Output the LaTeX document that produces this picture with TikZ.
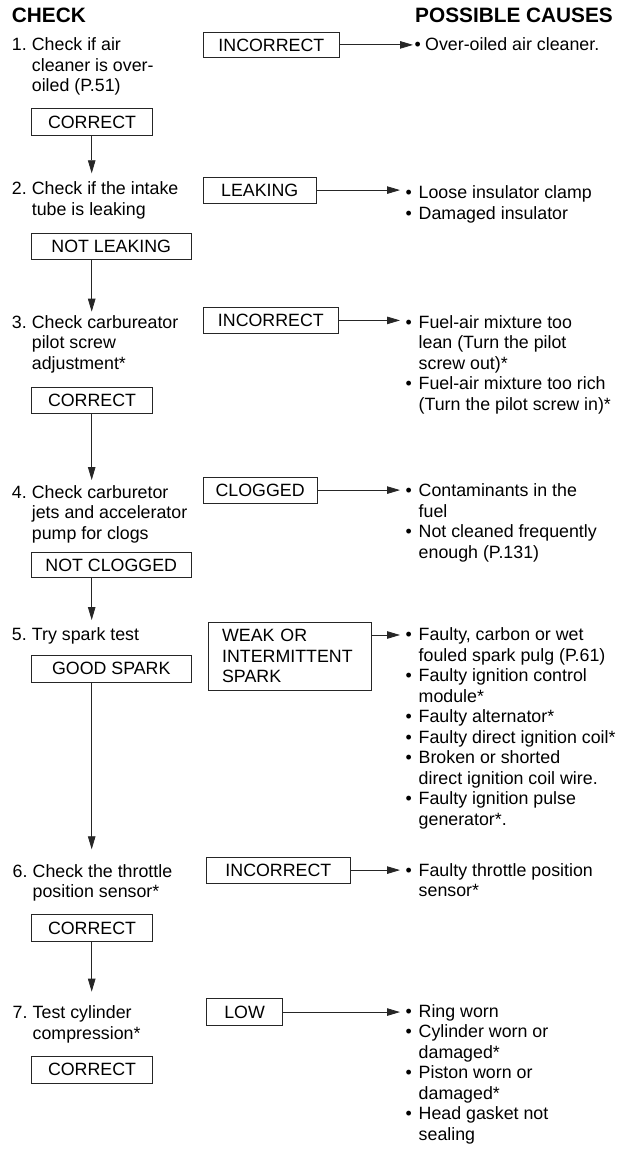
\documentclass[tikz,border=0pt]{standalone}
\usepackage{fontspec}
\setmainfont{Liberation Sans}
\usetikzlibrary{arrows.meta}
\newcommand{\bul}{\makebox[13.1pt][l]{•}}
\newcommand{\num}[1]{\makebox[20pt][l]{#1}}
\tikzset{
  every node/.style={font=\fontsize{17.8}{20.5}\selectfont, inner sep=0pt},
  txt/.style={anchor=base west, inner sep=0pt},
  hdr/.style={anchor=base west, inner sep=0pt, font=\fontsize{20.8}{24}\selectfont\bfseries},
  box/.style={draw=black!85, line width=0.8pt, anchor=north west, minimum height=26.5pt, inner sep=0pt},
  arr/.style={draw=black!85, line width=0.8pt, -{Triangle[length=13pt,width=7.5pt]}},
}
\begin{document}
\begin{tikzpicture}[x=1pt,y=-1pt]
\useasboundingbox (0,0) rectangle (616,1150);

% headers
\node[hdr] (hcheck) at (11.7,23) {CHECK};
\node[hdr] (hcause) at (415,23) {POSSIBLE CAUSES};

% step texts
\node[txt] (s1) at (11.7,50.7) {\begin{tabular}[t]{@{}l@{}l@{}}\num{1.}&Check if air\\&cleaner is over-\\&oiled (P.51)\end{tabular}};
\node[txt] (s2) at (11.7,195) {\begin{tabular}[t]{@{}l@{}l@{}}\num{2.}&Check if the intake\\&tube is leaking\end{tabular}};
\node[txt] (s3) at (11.7,328) {\begin{tabular}[t]{@{}l@{}l@{}}\num{3.}&Check carbureator\\&pilot screw\\&adjustment*\end{tabular}};
\node[txt] (s4) at (11.7,498.3) {\begin{tabular}[t]{@{}l@{}l@{}}\num{4.}&Check carburetor\\&jets and accelerator\\&pump for clogs\end{tabular}};
\node[txt] (s5) at (11.7,640) {\begin{tabular}[t]{@{}l@{}l@{}}\num{5.}&Try spark test\end{tabular}};
\node[txt] (s6) at (12.5,877) {\begin{tabular}[t]{@{}l@{}l@{}}\num{6.}&Check the throttle\\&position sensor*\end{tabular}};
\node[txt] (s7) at (12.5,1018.5) {\begin{tabular}[t]{@{}l@{}l@{}}\num{7.}&Test cylinder\\&compression*\end{tabular}};

% left result boxes
\node[box, minimum width=121.3pt, minimum height=26.7pt] (c1) at (31,108.3) {CORRECT};
\node[box, minimum width=159.7pt, minimum height=26.6pt] (c2) at (31,232.7) {NOT LEAKING};
\node[box, minimum width=121.3pt, minimum height=26pt] (c3) at (31,387.3) {CORRECT};
\node[box, minimum width=159.7pt, minimum height=25.6pt] (c4) at (31,551.7) {NOT CLOGGED};
\node[box, minimum width=159.7pt, minimum height=26.7pt] (c5) at (31,655) {GOOD SPARK};
\node[box, minimum width=121.3pt, minimum height=26.7pt] (c6) at (31,914.3) {CORRECT};
\node[box, minimum width=121.3pt, minimum height=26.7pt] (c7) at (31,1056) {CORRECT};

% right result boxes
\node[box, minimum width=136.6pt, minimum height=25.6pt] (b1) at (202.7,31.7) {INCORRECT};
\node[box, minimum width=113.3pt, minimum height=26pt] (b2) at (202.7,176.7) {LEAKING};
\node[box, minimum width=135.6pt, minimum height=26.6pt] (b3) at (202.7,306.7) {INCORRECT};
\node[box, minimum width=114pt, minimum height=26pt] (b4) at (202.7,476.7) {CLOGGED};
\node[box, text width=135.9pt, align=left, inner xsep=13.4pt, minimum height=68.3pt] (b5) at (208.3,621.7) {WEAK OR\\INTERMITTENT\\SPARK};
\node[box, minimum width=144pt, minimum height=26pt] (b6) at (206,856.7) {INCORRECT};
\node[box, minimum width=76.3pt, minimum height=26.7pt] (b7) at (206,998.3) {LOW};

% causes
\node[txt] (k1) at (414.5,50.5) {\begin{tabular}[t]{@{}l@{}l@{}}\makebox[10.5pt][l]{•}&Over-oiled air cleaner.\end{tabular}};
\node[txt] (k2) at (405.4,199) {\begin{tabular}[t]{@{}l@{}l@{}}\bul&Loose insulator clamp\\\bul&Damaged insulator\end{tabular}};
\node[txt] (k3) at (405.4,328.3) {\begin{tabular}[t]{@{}l@{}l@{}}\bul&Fuel-air mixture too\\&lean (Turn the pilot\\&screw out)*\\\bul&Fuel-air mixture too rich\\&(Turn the pilot screw in)*\end{tabular}};
\node[txt] (k4) at (405.4,496.7) {\begin{tabular}[t]{@{}l@{}l@{}}\bul&Contaminants in the\\&fuel\\\bul&Not cleaned frequently\\&enough (P.131)\end{tabular}};
\node[txt] (k5) at (405.4,640.7) {\begin{tabular}[t]{@{}l@{}l@{}}\bul&Faulty, carbon or wet\\&fouled spark pulg (P.61)\\\bul&Faulty ignition control\\&module*\\\bul&Faulty alternator*\\\bul&Faulty direct ignition coil*\\\bul&Broken or shorted\\&direct ignition coil wire.\\\bul&Faulty ignition pulse\\&generator*.\end{tabular}};
\node[txt] (k6) at (405.4,876) {\begin{tabular}[t]{@{}l@{}l@{}}\bul&Faulty throttle position\\&sensor*\end{tabular}};
\node[txt] (k7) at (405.4,1017.3) {\begin{tabular}[t]{@{}l@{}l@{}}\bul&Ring worn\\\bul&Cylinder worn or\\&damaged*\\\bul&Piston worn or\\&damaged*\\\bul&Head gasket not\\&sealing\end{tabular}};

% vertical flow
\coordinate (col) at (91.7,0);
\coordinate (t2) at (91.7,173.3);
\coordinate (t3) at (91.7,311.7);
\coordinate (t4) at (91.7,480);
\coordinate (t5) at (91.7,620);
\coordinate (t6) at (91.7,849.3);
\coordinate (t7) at (91.7,991.7);
\draw[arr] (c1.south -| col) -- (t2);
\draw[arr] (c2.south -| col) -- (t3);
\draw[arr] (c3.south -| col) -- (t4);
\draw[arr] (c4.south -| col) -- (t5);
\draw[arr] (c5.south -| col) -- (t6);
\draw[arr] (c6.south -| col) -- (t7);

% horizontal arrows
\coordinate (w5) at ([yshift=-13.3pt]b5.north east);
\draw[arr, shorten >=1.5pt] (b1.east) -- (b1.east -| k1.west);
\draw[arr, shorten >=5.4pt] (b2.east) -- (b2.east -| k2.west);
\draw[arr, shorten >=5.4pt] (b3.east) -- (b3.east -| k3.west);
\draw[arr, shorten >=5.4pt] (b4.east) -- (b4.east -| k4.west);
\draw[arr, shorten >=5.4pt] (w5) -- (w5 -| k5.west);
\draw[arr, shorten >=5.4pt] (b6.east) -- (b6.east -| k6.west);
\draw[arr, shorten >=5.4pt] (b7.east) -- (b7.east -| k7.west);
\end{tikzpicture}
\end{document}
